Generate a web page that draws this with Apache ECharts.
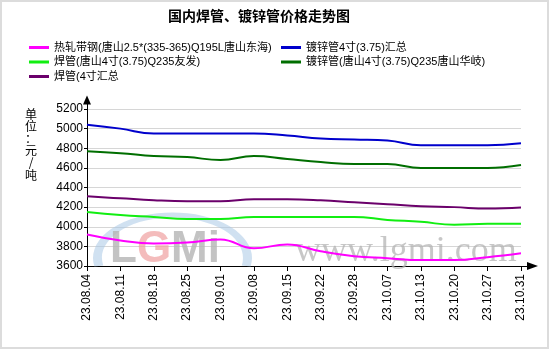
<!DOCTYPE html>
<html>
<head>
<meta charset="utf-8">
<title>国内焊管、镀锌管价格走势图</title>
<script src="https://cdn.jsdelivr.net/npm/echarts@6/dist/echarts.min.js"></script>
<style>
  html, body { margin: 0; padding: 0; background: #fff; }
  #chart { position: absolute; left: 0; top: 0; width: 550px; height: 350px; }
  #frame { position: absolute; left: 0; top: 0; width: 549px; height: 349px;
           box-sizing: border-box; border: 2px solid #dcdcdc; pointer-events: none; }
</style>
</head>
<body>
<div id="chart"></div>
<div id="frame"></div>
<script>
// Weekly quotation dates
const categories = ['23.08.04', '23.08.11', '23.08.18', '23.08.25', '23.09.01', '23.09.08', '23.09.15',
                    '23.09.22', '23.09.28', '23.10.07', '23.10.13', '23.10.20', '23.10.27', '23.10.31'];

// Y axis range (元/吨)
const yMin = 3600;
const yMax = 5200;
const yStep = 200;

// Price series, 元/吨
const hotRolledStrip = [3920, 3860, 3830, 3840, 3870, 3780, 3820, 3750, 3700, 3680, 3660, 3660, 3690, 3730];
const galvanizedAvg = [5040, 5000, 4950, 4950, 4950, 4950, 4930, 4900, 4890, 4880, 4830, 4830, 4830, 4850];
const weldedYoufa = [4150, 4120, 4100, 4080, 4080, 4100, 4100, 4100, 4100, 4070, 4050, 4020, 4030, 4030];
const galvanizedHuaqi = [4770, 4750, 4720, 4710, 4680, 4720, 4690, 4660, 4640, 4640, 4600, 4600, 4600, 4630];
const weldedAvg = [4310, 4290, 4270, 4260, 4260, 4280, 4280, 4270, 4250, 4230, 4210, 4200, 4185, 4195];

// Series names as shown in the legend
const nameHotRolled = '热轧带钢(唐山2.5*(335-365)Q195L唐山东海)';
const nameGalvAvg = '镀锌管4寸(3.75)汇总';
const nameWeldedYoufa = '焊管(唐山4寸(3.75)Q235友发)';
const nameGalvHuaqi = '镀锌管(唐山4寸(3.75)Q235唐山华岐)';
const nameWeldedAvg = '焊管(4寸汇总';

const FONT = "'Liberation Sans', Arial, 'Noto Sans CJK SC', sans-serif";

function lineSeries(name, data, color) {
  return {
    name: name,
    type: 'line',
    data: data,
    smooth: 0.45,
    symbol: 'none',
    color: color,
    lineStyle: { width: 2, color: color },
    z: 3
  };
}

function legendColumn(names, left) {
  return {
    data: names,
    orient: 'vertical',
    left: left,
    top: 42,
    padding: 0,
    itemGap: 3.5,
    itemWidth: 20,
    itemHeight: 3,
    icon: 'rect',
    selectedMode: false,
    textStyle: { fontSize: 11, color: '#000', fontFamily: FONT }
  };
}

// logo ring: upper part of an ellipse, cut off at the x axis
const ringCx = 172.5, ringCy = 258, ringRx = 75, ringRy = 43;
const ringCut = Math.asin((266 - ringCy) / ringRy);

const chart = echarts.init(document.getElementById('chart'), null, { renderer: 'canvas' });

chart.setOption({
  animation: false,
  backgroundColor: 'transparent',
  textStyle: { fontFamily: FONT },
  title: {
    text: '国内焊管、镀锌管价格走势图',
    left: 168,
    top: 10,
    padding: 0,
    textStyle: { fontSize: 14, fontWeight: 'bold', color: '#000', fontFamily: FONT }
  },
  legend: [
    legendColumn([nameHotRolled, nameWeldedYoufa, nameWeldedAvg], 29),
    legendColumn([nameGalvAvg, nameGalvHuaqi], 281)
  ],
  grid: [
    { left: 87, right: 29, top: 109, bottom: 84 },
    // frame for the arrowed axis lines, slightly longer than the plot
    { left: 87, right: 17.5, top: 100, bottom: 84 }
  ],
  xAxis: [
    {
      type: 'category',
      gridIndex: 0,
      data: categories,
      boundaryGap: false,
      axisLine: { show: false },
      axisTick: { show: true, length: 5, inside: false, lineStyle: { color: '#000' } },
      axisLabel: { rotate: 90, margin: 8, fontSize: 12, color: '#000', fontFamily: FONT, interval: 0 },
      splitLine: { show: false }
    },
    {
      type: 'value',
      gridIndex: 1,
      min: 0,
      max: 1,
      axisLine: {
        show: true, onZero: false,
        symbol: ['none', 'triangle'], symbolSize: [8, 11],
        lineStyle: { color: '#000', width: 1 }
      },
      axisTick: { show: false },
      axisLabel: { show: false },
      splitLine: { show: false }
    }
  ],
  yAxis: [
    {
      type: 'value',
      gridIndex: 0,
      min: yMin,
      max: yMax,
      interval: yStep,
      axisLine: { show: false },
      axisTick: { show: true, length: 3, lineStyle: { color: '#000' } },
      axisLabel: { margin: 4, fontSize: 12, color: '#000', fontFamily: FONT, formatter: (v) => String(v) },
      splitLine: { show: true, lineStyle: { color: '#d6d6d6', width: 1 } }
    },
    {
      type: 'value',
      gridIndex: 1,
      min: 0,
      max: 1,
      axisLine: {
        show: true, onZero: false,
        symbol: ['none', 'triangle'], symbolSize: [8, 9],
        lineStyle: { color: '#000', width: 1 }
      },
      axisTick: { show: false },
      axisLabel: { show: false },
      splitLine: { show: false }
    }
  ],
  graphic: [
    // unit caption, written top to bottom
    {
      type: 'text',
      x: 31,
      y: 108,
      silent: true,
      style: {
        text: '单\n位\n：\n元\n/\n吨',
        font: "12px 'Noto Sans CJK SC', sans-serif",
        lineHeight: 12.2,
        fill: '#000',
        align: 'center',
        verticalAlign: 'top'
      }
    },
    // watermark: logo ring
    {
      type: 'arc',
      silent: true,
      z: 1,
      x: ringCx,
      y: ringCy,
      scaleY: ringRy / ringRx,
      shape: { cx: 0, cy: 0, r: ringRx, startAngle: Math.PI - ringCut, endAngle: 2 * Math.PI + ringCut, clockwise: true },
      style: { fill: 'none', stroke: 'rgba(170,200,230,0.55)', lineWidth: 9, strokeNoScale: true }
    },
    // watermark: logo letters
    {
      type: 'text',
      silent: true,
      z: 1,
      x: 110,
      y: 250,
      style: {
        text: '{a|L}{b|G}{a|Mi}',
        verticalAlign: 'middle',
        rich: {
          a: { font: "bold 44px 'Liberation Sans', sans-serif", fill: 'rgba(180,180,180,0.8)' },
          b: { font: "bold 44px 'Liberation Sans', sans-serif", fill: 'rgba(240,160,160,0.7)' }
        }
      }
    },
    // watermark: site address
    {
      type: 'text',
      silent: true,
      z: 1,
      x: 295,
      y: 252,
      style: {
        text: 'www.lgmi.com',
        font: "36px 'Liberation Serif', 'Times New Roman', serif",
        fill: 'rgba(175,175,175,0.7)',
        verticalAlign: 'middle'
      }
    }
  ],
  series: [
    lineSeries(nameHotRolled, hotRolledStrip, '#ff00ff'),
    lineSeries(nameGalvAvg, galvanizedAvg, '#0000cc'),
    lineSeries(nameWeldedYoufa, weldedYoufa, '#11ee11'),
    lineSeries(nameGalvHuaqi, galvanizedHuaqi, '#006e00'),
    lineSeries(nameWeldedAvg, weldedAvg, '#6b006b')
  ]
});
</script>
</body>
</html>
